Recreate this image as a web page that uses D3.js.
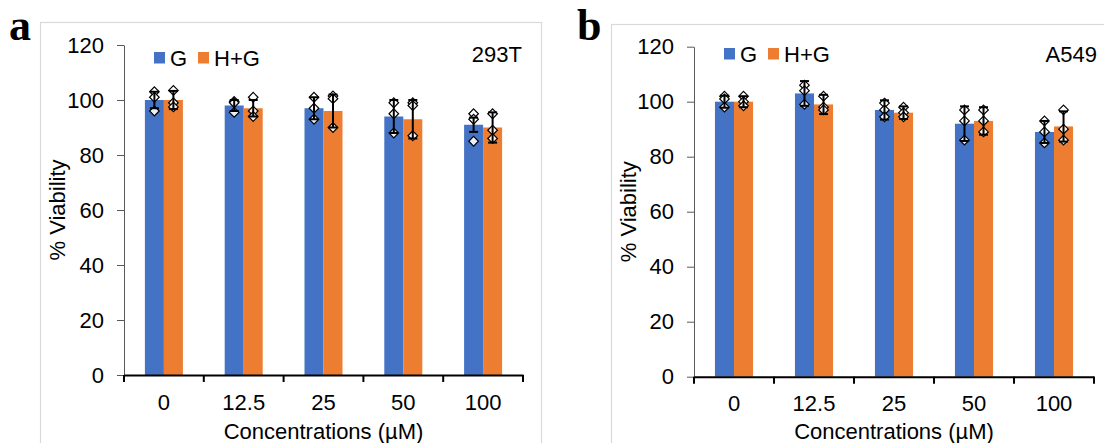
<!DOCTYPE html>
<html>
<head>
<meta charset="utf-8">
<script src="https://cdn.jsdelivr.net/npm/d3@7"></script>
<style>
  html, body { margin: 0; padding: 0; background: #fff; }
  svg { display: block; }
</style>
</head>
<body>
<svg id="chart" width="1104" height="443"></svg>
<script>
// ---------------- data ----------------
const categories = ["0", "12.5", "25", "50", "100"];
const seriesNames = ["G", "H+G"];
const yTicks = [0, 20, 40, 60, 80, 100, 120];

// Panel a : 293T
const a_G      = [100, 98, 97, 94, 91];
const a_HG     = [100, 97, 96, 93, 90];
const a_G_err  = [3, 2, 4, 6, 2.6];
const a_HG_err = [3.3, 3, 6, 7, 5.5];
const a_G_pts  = [[103, 101, 96], [99.5, 99, 95.5], [101, 97, 93], [99, 95, 88], [95, 93, 85]];
const a_HG_pts = [[103.5, 99, 97.5], [101, 96, 94], [101.5, 100.5, 90], [99, 98, 87], [95, 89, 86]];

// Panel b : A549
const b_G      = [100, 103, 97, 92, 89];
const b_HG     = [100, 99, 96, 93, 91];
const b_G_err  = [2.2, 4.5, 3.5, 6.3, 4];
const b_HG_err = [2, 3.5, 2.3, 5, 5.5];
const b_G_pts  = [[102, 101, 98], [106, 104, 99], [99.5, 97, 94.5], [97, 93, 86], [93, 89, 85]];
const b_HG_pts = [[102, 100, 98.5], [102, 98, 97], [98, 96, 94.5], [97, 93, 89], [97, 90, 86]];

const colors = ["#4472C4", "#ED7D31"];
const FONT = "Arial, 'Liberation Sans', Helvetica, sans-serif";

const svg = d3.select("#chart");

function drawPanel(cfg) {
  const g = svg.append("g");

  // frame
  g.append("rect")
    .attr("x", cfg.frame[0] + 0.5).attr("y", cfg.frame[1] + 0.5)
    .attr("width", cfg.frame[2]).attr("height", cfg.frame[3])
    .attr("fill", "none").attr("stroke", "#d9d9d9").attr("stroke-width", 1.2);

  // panel letter
  g.append("text")
    .attr("x", cfg.letterX).attr("y", 40)
    .attr("font-family", "'Liberation Serif', 'Times New Roman', serif")
    .attr("font-weight", "bold").attr("font-size", 44)
    .text(cfg.letter);

  const x0 = d3.scaleBand().domain(categories).range([cfg.left, cfg.right]).padding(0);
  const x1 = d3.scaleBand().domain(seriesNames).range([0, x0.bandwidth()])
    .paddingInner(0).paddingOuter(1.1);
  const y = d3.scaleLinear().domain([0, 120]).range([cfg.bottom, cfg.top]);

  const seriesData = [
    { name: seriesNames[0], vals: cfg.G, err: cfg.Gerr, pts: cfg.Gpts, color: colors[0] },
    { name: seriesNames[1], vals: cfg.HG, err: cfg.HGerr, pts: cfg.HGpts, color: colors[1] }
  ];

  // bars
  seriesData.forEach(s => {
    g.append("g").selectAll("rect")
      .data(categories.map((c, i) => ({ c, v: s.vals[i] })))
      .join("rect")
      .attr("x", d => x0(d.c) + x1(s.name))
      .attr("width", x1.bandwidth())
      .attr("y", d => y(d.v))
      .attr("height", d => y(0) - y(d.v))
      .attr("fill", s.color);
  });

  // y axis
  const yAxis = g.append("g")
    .attr("transform", `translate(${cfg.left},0)`)
    .call(d3.axisLeft(y).tickValues(yTicks).tickSize(7).tickPadding(13).tickSizeOuter(0));
  yAxis.select(".domain").attr("stroke", "#595959");
  yAxis.selectAll(".tick line").attr("stroke", "#595959");
  yAxis.selectAll("text").attr("font-family", FONT).attr("font-size", 22).attr("fill", "#000");

  // x axis
  const xAxis = g.append("g")
    .attr("transform", `translate(0,${cfg.bottom})`)
    .call(d3.axisBottom(x0).tickSize(0).tickPadding(19).tickSizeOuter(0));
  xAxis.select(".domain").attr("stroke", "#000").attr("stroke-width", 2);
  xAxis.selectAll("text").attr("font-family", FONT).attr("font-size", 22).attr("fill", "#000");
  const bounds = categories.map(c => x0(c)).concat([x0.range()[1]]);
  xAxis.selectAll(".bound").data(bounds).join("line")
    .attr("class", "bound")
    .attr("x1", d => d).attr("x2", d => d)
    .attr("y1", 0).attr("y2", 7)
    .attr("stroke", "#000").attr("stroke-width", 2);

  // points, then error bars on top
  seriesData.forEach(s => {
    categories.forEach((c, i) => {
      const cx = x0(c) + x1(s.name) + x1.bandwidth() / 2;
      g.append("g").selectAll("path")
        .data(s.pts[i])
        .join("path")
        .attr("transform", d => `translate(${cx},${y(d)})`)
        .attr("d", "M0,-4.8L4.8,0L0,4.8L-4.8,0Z")
        .attr("fill", "#fff").attr("fill-opacity", 0.9)
        .attr("stroke", "#000").attr("stroke-width", 1.2);
      const top = y(s.vals[i] + s.err[i]);
      const bot = y(s.vals[i] - s.err[i]);
      const eg = g.append("g").attr("stroke", "#000").attr("stroke-width", 2);
      eg.append("line").attr("x1", cx).attr("x2", cx).attr("y1", top).attr("y2", bot);
      eg.append("line").attr("x1", cx - 4.5).attr("x2", cx + 4.5).attr("y1", top).attr("y2", top);
      eg.append("line").attr("x1", cx - 4.5).attr("x2", cx + 4.5).attr("y1", bot).attr("y2", bot);
    });
  });

  // legend
  const lg = g.append("g");
  seriesData.forEach((s, i) => {
    lg.append("rect")
      .attr("x", cfg.legendX[i]).attr("y", cfg.legendY)
      .attr("width", 11).attr("height", 11.5).attr("fill", s.color);
    lg.append("text")
      .attr("x", cfg.legendX[i] + 16).attr("y", cfg.legendY + 13.5)
      .attr("font-family", FONT).attr("font-size", 22).text(s.name);
  });

  // cell line label
  g.append("text")
    .attr("x", cfg.labelRight).attr("y", 62)
    .attr("text-anchor", "end")
    .attr("font-family", FONT).attr("font-size", 22).text(cfg.cell);

  // axis titles
  g.append("text")
    .attr("transform", `translate(${cfg.yTitleX},${(cfg.top + cfg.bottom) / 2}) rotate(-90)`)
    .attr("text-anchor", "middle").attr("dy", "0.35em")
    .attr("font-family", FONT).attr("font-size", 22).text("% Viability");
  g.append("text")
    .attr("x", (cfg.left + cfg.right) / 2).attr("y", 439)
    .attr("text-anchor", "middle")
    .attr("font-family", FONT).attr("font-size", 22).text("Concentrations (\u00B5M)");
}

drawPanel({
  letter: "a", letterX: 9, frame: [40, 22, 501, 430],
  left: 124, right: 523, top: 45, bottom: 375,
  G: a_G, HG: a_HG, Gerr: a_G_err, HGerr: a_HG_err, Gpts: a_G_pts, HGpts: a_HG_pts,
  legendX: [154, 198], legendY: 52, labelRight: 522, cell: "293T", yTitleX: 57
});

drawPanel({
  letter: "b", letterX: 577, frame: [611, 24, 500, 430],
  left: 694, right: 1094, top: 46.7, bottom: 376.7,
  G: b_G, HG: b_HG, Gerr: b_G_err, HGerr: b_HG_err, Gpts: b_G_pts, HGpts: b_HG_pts,
  legendX: [724, 768], legendY: 48, labelRight: 1097, cell: "A549", yTitleX: 628
});
</script>
</body>
</html>
